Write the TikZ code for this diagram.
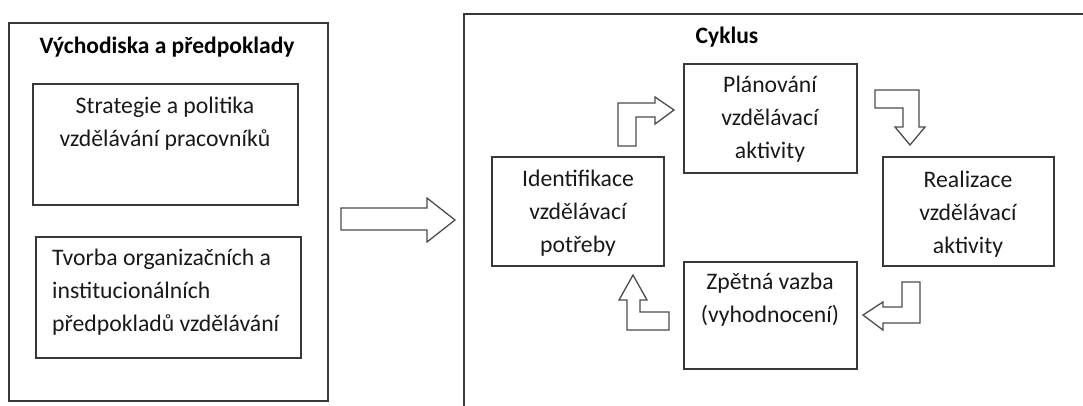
\documentclass[tikz,border=0pt]{standalone}
\usepackage{fontspec}
\setmainfont{Carlito}
\begin{document}
\begin{tikzpicture}[x=1bp,y=-1bp,
 box/.style={draw=black!78, line width=1.3bp, inner sep=0pt},
 blk/.style={draw=black!70, line width=1.3bp, line join=miter, fill=white},
 txt/.style={font=\fontsize{23.8}{33}\selectfont, align=center, inner sep=0pt, text=black!90},
 ttl/.style={font=\fontsize{23.6}{33}\selectfont\bfseries, inner sep=0pt, text=black}]
\path[use as bounding box] (0,0) rectangle (1083,405);
\clip (0,0) rectangle (1083,405);
% left part
\node[box, minimum width=319bp, minimum height=378bp] (left) at (168.5,212) {};
\node[ttl] (lefttitle) at (167,47) {Východiska a předpoklady};
\node[box, minimum width=265bp, minimum height=121bp] (strat) at (165.5,144.5) {};
\node[txt] (strattxt) at (165,123.5) {Strategie a politika\\vzdělávání pracovníků};
\node[box, minimum width=265bp, minimum height=121bp] (tvorba) at (168.5,297.5) {};
\node[txt, align=left, anchor=west] (tvorbatxt) at (52,292.5) {Tvorba organizačních a\\institucionálních\\předpokladů vzdělávání};
% big arrow
\draw[blk] (341,208) -- (427,208) -- (427,198) -- (455,220) -- (427,242) -- (427,230) -- (341,230) -- cycle;
% right part
\node[box, minimum width=636bp, minimum height=406bp] (right) at (782,217) {};
\node[ttl] (righttitle) at (727,37) {Cyklus};
\node[box, minimum width=173bp, minimum height=109bp] (plan) at (770.5,118.5) {};
\node[txt] (plantxt) at (770,119.5) {Plánování\\vzdělávací\\aktivity};
\node[box, minimum width=172bp, minimum height=109bp] (ident) at (578,211.5) {};
\node[txt] (identtxt) at (578,213) {Identifikace\\vzdělávací\\potřeby};
\node[box, minimum width=171bp, minimum height=109bp] (real) at (968.5,211.5) {};
\node[txt] (realtxt) at (968,214) {Realizace\\vzdělávací\\aktivity};
\node[box, minimum width=173bp, minimum height=107bp] (zpet) at (770.5,315.5) {};
\node[txt] (zpettxt) at (770,300) {Zpětná vazba\\(vyhodnocení)};
% bent arrows
\draw[blk] (618,146) -- (618,103) -- (655,103) -- (655,97) -- (674,110) -- (655,124) -- (655,117) -- (636,117) -- (636,146) -- cycle;
\draw[blk] (875,90) -- (919,90) -- (919,127) -- (925,127) -- (910,145) -- (895,127) -- (903,127) -- (903,108) -- (875,108) -- cycle;
\draw[blk] (902,282) -- (920,282) -- (920,323) -- (883,323) -- (883,330) -- (863,315) -- (883,302) -- (883,307) -- (902,307) -- cycle;
\draw[blk] (669,312) -- (669,330) -- (627,330) -- (627,300) -- (619,300) -- (633,275) -- (647,300) -- (640,300) -- (640,312) -- cycle;
\end{tikzpicture}
\end{document}
